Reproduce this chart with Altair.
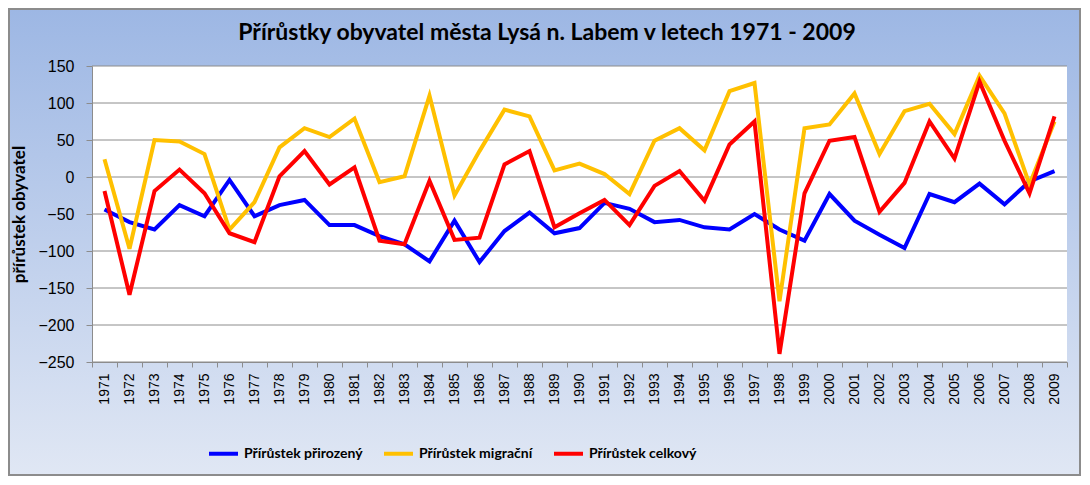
import altair as alt
import pandas as pd

years = [str(y) for y in range(1971, 2010)]
prirozeny = [-44, -61, -71, -38, -53, -4, -53, -38, -31, -65,
             -65, -80, -91, -114, -59, -115, -73, -48, -76, -69,
             -35, -43, -61, -58, -68, -71, -50, -71, -86, -23,
             -59, -78, -96, -23, -34, -9, -37, -6, 8]
migracni = [24, -97, 50, 48, 31, -71, -34, 40, 66, 54,
            79, -7, 1, 110, -25, 35, 91, 82, 9, 18,
            4, -23, 49, 66, 36, 116, 127, -168, 66, 71,
            113, 31, 89, 99, 58, 137, 86, -10, 75]
celkovy = [-19, -159, -19, 10, -22, -76, -88, 1, 35, -10,
           13, -86, -91, -5, -85, -82, 17, 35, -68, -49,
           -31, -65, -12, 8, -32, 44, 75, -239, -22, 49,
           54, -47, -8, 75, 25, 129, 49, -22, 82]
series_names = ["Přírůstek přirozený", "Přírůstek migrační", "Přírůstek celkový"]
series_colors = ["#0000ff", "#ffc000", "#ff0000"]
y_ticks = [150, 100, 50, 0, -50, -100, -150, -200, -250]
title_text = "Přírůstky obyvatel města Lysá n. Labem v letech 1971 - 2009"

rows = []
for name, vals in zip(series_names, [prirozeny, migracni, celkovy]):
    for yr, v in zip(years, vals):
        rows.append({"rok": yr, "hodnota": v, "rada": name})
df = pd.DataFrame(rows)
grid_df = pd.DataFrame({"v": y_ticks})
title_df = pd.DataFrame({"t": [title_text]})

W, H = 975, 296
PL, PT, PR, PB = 84, 58, 14, 114

bg = alt.Chart(title_df).mark_rect(
    color=alt.LinearGradient(
        gradient="linear", x1=0, y1=0, x2=0, y2=1,
        stops=[alt.GradientStop(offset=0, color="#9db7e4"),
               alt.GradientStop(offset=1, color="#e0e7f4")]),
    stroke="#8c8c8c", strokeWidth=2
).encode(x=alt.value(-PL + 1), x2=alt.value(W + PR - 1),
         y=alt.value(-PT + 1), y2=alt.value(H + PB - 1))

white = alt.Chart(title_df).mark_rect(color="white").encode(
    x=alt.value(0), x2=alt.value(W), y=alt.value(0), y2=alt.value(H))

title = alt.Chart(title_df).mark_text(
    font="Lato", fontSize=23, fontWeight="bold", color="#000000",
    align="center", baseline="middle"
).encode(text="t:N", x=alt.value(455), y=alt.value(-33))

yscale = alt.Scale(domain=[-250, 150], nice=False)
yaxis = alt.Axis(values=y_ticks, labelFont="Liberation Sans", labelFontSize=16,
                 labelColor="#000000", labelPadding=12, tickSize=6,
                 tickColor="#8c8c8c", domainColor="#8c8c8c",
                 titleFont="Lato", titleFontSize=17,
                 titleFontWeight="bold", titleColor="#000000",
                 titlePadding=9, grid=False, zindex=1)

grid = alt.Chart(grid_df).mark_rule(color="#8c8c8c", strokeWidth=1).encode(
    y=alt.Y("v:Q", scale=yscale, title="přírůstek obyvatel", axis=yaxis))

lines = alt.Chart(df).mark_line(strokeWidth=4, strokeJoin="miter").encode(
    x=alt.X("rok:N", sort=years, title=None,
            scale=alt.Scale(paddingInner=0, paddingOuter=0),
            axis=alt.Axis(labelAngle=-90, labelFont="Liberation Sans", labelFontSize=14,
                          labelColor="#000000", labelPadding=6, tickBand="extent",
                          tickSize=5, tickColor="#8c8c8c", domainColor="#8c8c8c",
                          labelBaseline="middle", labelAlign="right",
                          grid=False, zindex=1)),
    y=alt.Y("hodnota:Q", scale=yscale, title="přírůstek obyvatel", axis=yaxis),
    color=alt.Color("rada:N", sort=series_names,
                    scale=alt.Scale(domain=series_names, range=series_colors),
                    legend=alt.Legend(title=None, orient="none", direction="horizontal",
                                      legendX=115, legendY=371, symbolType="stroke",
                                      symbolSize=840, symbolStrokeWidth=4,
                                      labelFont="Lato", labelFontSize=14,
                                      labelFontWeight="bold", labelColor="#000000",
                                      labelOffset=4, columnPadding=13, padding=0,
                                      zindex=1)),
    detail="rada:N"
)

chart = alt.layer(bg, white, grid, lines, title).properties(
    width=W, height=H,
    autosize=alt.AutoSizeParams(type="none"),
    padding={"left": PL, "top": PT, "right": PR, "bottom": PB}
).configure_view(stroke=None)

chart.save("out.html", embed_options={"renderer": "svg", "actions": False})
